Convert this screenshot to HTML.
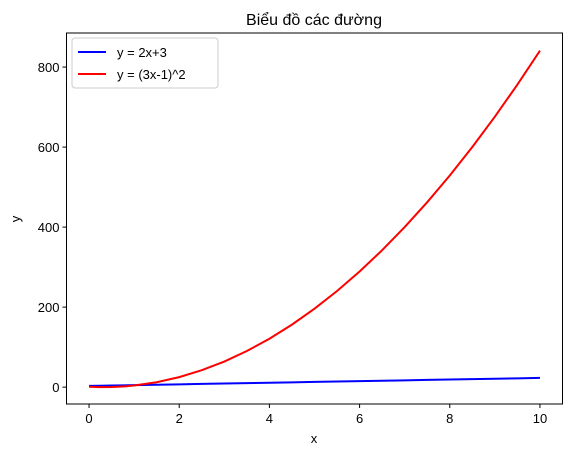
<!DOCTYPE html>
<html><head><meta charset="utf-8">
<style>
html,body{margin:0;padding:0;background:#fff;}
svg text{font-family:"Liberation Sans","DejaVu Sans",sans-serif;fill:#000;}
</style></head>
<body>
<svg id="chart" width="571" height="457" xmlns="http://www.w3.org/2000/svg">
<rect width="571" height="457" fill="#fff"/>
<text x="314" y="25" font-size="16" text-anchor="middle">Biểu đồ các đường</text>
<g id="ticks"></g>
<g id="lines"></g>
<rect x="66.5" y="33" width="496" height="371" fill="none" stroke="#000" stroke-width="1"/>
<text x="314" y="443" font-size="13" text-anchor="middle">x</text>
<text x="20" y="219" font-size="13" text-anchor="middle" transform="rotate(-90 20 219)">y</text>
<g>
<rect x="72" y="38" width="146" height="50" rx="3" fill="#fff" fill-opacity="0.8" stroke="#ccc"/>
<line x1="78" y1="52" x2="106" y2="52" stroke="#0000ff" stroke-width="2"/>
<text x="117" y="57" font-size="13">y = 2x+3</text>
<line x1="78" y1="74" x2="106" y2="74" stroke="#ff0000" stroke-width="2"/>
<text x="117" y="79" font-size="13">y = (3x-1)^2</text>
</g>
</svg>
<script>
const xValues=[0,0.25,0.5,0.75,1,1.5,2,2.5,3,3.5,4,4.5,5,5.5,6,6.5,7,7.5,8,8.5,9,9.5,10];
const blueValues=[3,3.5,4,4.5,5,6,7,8,9,10,11,12,13,14,15,16,17,18,19,20,21,22,23];
const redValues=[1,0.0625,0.25,1.5625,4,12.25,25,42.25,64,90.25,121,156.25,196,240.25,289,342.25,400,462.25,529,600.25,676,756.25,841];
const xTicks=[0,2,4,6,8,10];
const yTicks=[0,200,400,600,800];
const xMin=-0.5,xMax=10.5,yMin=-42.15,yMax=885.15;
const L=66.5,R=562.5,T=33,B=404;
function sx(v){return L+(v-xMin)/(xMax-xMin)*(R-L);}
function sy(v){return B-(v-yMin)/(yMax-yMin)*(B-T);}
const NS="http://www.w3.org/2000/svg";
const tg=document.getElementById('ticks');
xTicks.forEach(t=>{
 const l=document.createElementNS(NS,'line');
 l.setAttribute('x1',sx(t));l.setAttribute('x2',sx(t));l.setAttribute('y1',B);l.setAttribute('y2',B+4);l.setAttribute('stroke','#000');
 
 
 tg.appendChild(l);
 const tx=document.createElementNS(NS,'text');
 tx.setAttribute('x',sx(t));tx.setAttribute('y',B+19);tx.setAttribute('font-size','13');tx.setAttribute('text-anchor','middle');tx.textContent=t;
 
 
 tg.appendChild(tx);
});
yTicks.forEach(t=>{
 const l=document.createElementNS(NS,'line');
 l.setAttribute('x1',L-4);l.setAttribute('x2',L);l.setAttribute('y1',sy(t));l.setAttribute('y2',sy(t));l.setAttribute('stroke','#000');
 
 
 tg.appendChild(l);
 const tx=document.createElementNS(NS,'text');
 tx.setAttribute('x',L-7);tx.setAttribute('y',sy(t)+5);tx.setAttribute('font-size','13');tx.setAttribute('text-anchor','end');tx.textContent=t;
 
 
 tg.appendChild(tx);
});
const lg=document.getElementById('lines');
function addLine(vals,color,name){
 const p=document.createElementNS(NS,'polyline');
 p.setAttribute('points',xValues.map((x,i)=>sx(x)+','+sy(vals[i])).join(' '));
 p.setAttribute('fill','none');p.setAttribute('stroke',color);p.setAttribute('stroke-width','2');
 
 
 lg.appendChild(p);
}
addLine(blueValues,'#0000ff','line-linear');
addLine(redValues,'#ff0000','line-quadratic');
</script>
</body></html>
